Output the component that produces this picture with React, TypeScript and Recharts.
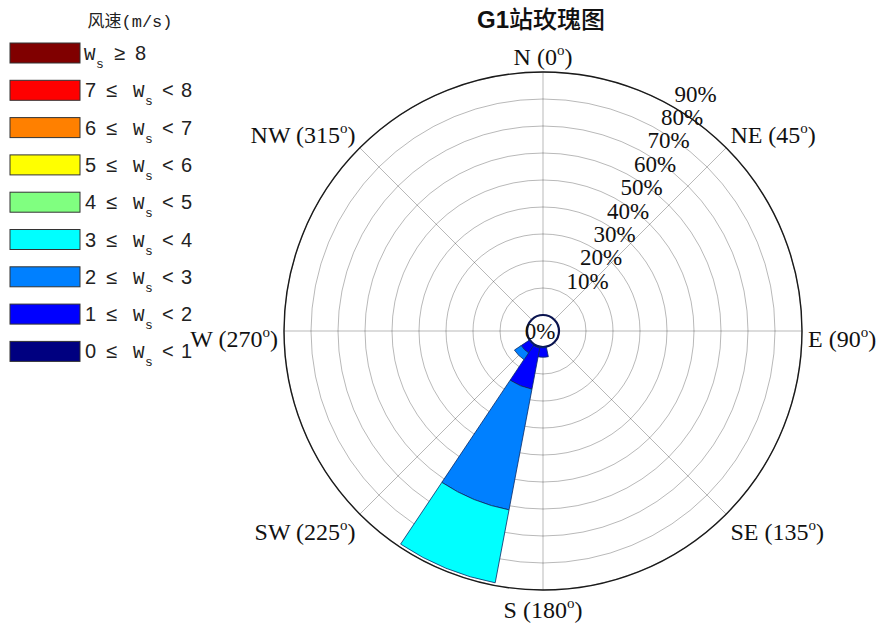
import React from 'react';
import { RadialBarChart, RadialBar, PolarAngleAxis, PolarRadiusAxis, PolarGrid, Cell } from 'recharts';

// 16 compass sectors, clockwise from north
const directions = ['N', 'NNE', 'NE', 'ENE', 'E', 'ESE', 'SE', 'SSE', 'S', 'SSW', 'SW', 'WSW', 'W', 'WNW', 'NW', 'NNW'];
const compassLabels = ['N', 'NE', 'E', 'SE', 'S', 'SW', 'W', 'NW'];
const compassDegrees = [0, 45, 90, 135, 180, 225, 270, 315];
const ringTicks = [0, 10, 20, 30, 40, 50, 60, 70, 80, 90];

// frequency (%) per wind speed band, one value per direction
const ws0to1 = [0, 0, 0, 0, 0, 0, 0, 0, 0.3, 0.5, 0.3, 0, 0, 0, 0, 0];
const ws1to2 = [0, 0, 0, 0, 0, 0, 0, 0, 3.5, 15.5, 3.5, 0, 0, 0, 0, 0];
const ws2to3 = [0, 0, 0, 0, 0, 0, 0, 0, 0, 45.5, 3.0, 0, 0, 0, 0, 0];
const ws3to4 = [0, 0, 0, 0, 0, 0, 0, 0, 0, 27.5, 0, 0, 0, 0, 0, 0];
const ws4to5 = [0, 0, 0, 0, 0, 0, 0, 0, 0, 0, 0, 0, 0, 0, 0, 0];
const ws5to6 = [0, 0, 0, 0, 0, 0, 0, 0, 0, 0, 0, 0, 0, 0, 0, 0];
const ws6to7 = [0, 0, 0, 0, 0, 0, 0, 0, 0, 0, 0, 0, 0, 0, 0, 0];
const ws7to8 = [0, 0, 0, 0, 0, 0, 0, 0, 0, 0, 0, 0, 0, 0, 0, 0];
const ws8up = [0, 0, 0, 0, 0, 0, 0, 0, 0, 0, 0, 0, 0, 0, 0, 0];

const bandLower = [0, 1, 2, 3, 4, 5, 6, 7, 8];
const bandUpper = [1, 2, 3, 4, 5, 6, 7, 8, null];
const bandColors = ['#000080', '#0000ff', '#0080ff', '#00ffff', '#80ff80', '#ffff00', '#ff8000', '#ff0000', '#800000'];
const bandSeries = [ws0to1, ws1to2, ws2to3, ws3to4, ws4to5, ws5to6, ws6to7, ws7to8, ws8up];

const rows = directions.map((dir, i) => {
  const row: Record<string, any> = { dir };
  bandSeries.forEach((s, b) => {
    row[`b${b}`] = s[i];
  });
  return row;
});

const CX = 543;
const CY = 331;
const INNER_R = 16;
const OUTER_R = 259;
const HALF_SECTOR = 360 / directions.length / 2;
const SERIF = '"Liberation Serif", "Times New Roman", serif';

const DirTick = (props: any) => {
  const { index, payload } = props;
  if (index % 2 !== 0) return <g />;
  const k = index / 2;
  // the axis coordinate sits on the sector edge, the label goes on the sector centre
  const a = ((payload.coordinate + HALF_SECTOR) * Math.PI) / 180;
  const x = CX + (OUTER_R + 6) * Math.cos(a);
  const y = CY - (OUTER_R + 6) * Math.sin(a);
  const dx = x - CX;
  const dy = y - CY;
  const anchor = dx > 1 ? 'start' : dx < -1 ? 'end' : 'middle';
  const ty = dy < -1 ? y - 1 : dy > 1 ? y + 22 : y + 16;
  return (
    <text x={x} y={ty} textAnchor={anchor} fontFamily={SERIF} fontSize={24} fill="#111">
      {`${compassLabels[k]} (${compassDegrees[k]}`}
      <tspan dy={-10} fontSize={15}>o</tspan>
      <tspan dy={10}>)</tspan>
    </text>
  );
};

const RingTick = (props: any) => {
  const { x, y, payload } = props;
  if (payload.value === 0) {
    return (
      <text x={CX - 3} y={CY + 8} textAnchor="middle" fontFamily={SERIF} fontSize={23} fill="#111">
        0%
      </text>
    );
  }
  return (
    <text x={x + 2} y={y - 5} textAnchor="start" fontFamily={SERIF} fontSize={23} fill="#111">
      {`${payload.value}%`}
    </text>
  );
};

const Legend = () => (
  <svg width={220} height={380} style={{ position: 'absolute', left: 0, top: 0 }}>
    <text x={130} y={27} textAnchor="middle" fontSize={17} fill="#222">
      <tspan fontFamily='"Noto Sans CJK SC", sans-serif'>风速</tspan>
      <tspan fontFamily='"Liberation Mono", monospace'>(m/s)</tspan>
    </text>
    {bandLower
      .map((lo, b) => ({ lo, hi: bandUpper[b], color: bandColors[b] }))
      .reverse()
      .map((band, i) => {
        const top = 43 + i * 37.3;
        const base = top + 17;
        const txt = { fontFamily: '"Liberation Sans", Arial, sans-serif', fontSize: 20, fill: '#222' };
        const w = { fontFamily: '"Liberation Mono", monospace', fontSize: 19, fill: '#222' };
        return (
          <g key={band.lo}>
            <rect x={10} y={top} width={70} height={20} fill={band.color} stroke="#333" strokeWidth={1} />
            {band.hi === null ? (
              <>
                <text x={84} y={base} {...w}>W</text>
                <text x={96} y={base + 8} {...w} fontSize={13}>s</text>
                <text x={114} y={base} {...txt}>≥</text>
                <text x={135} y={base} {...txt}>{band.lo}</text>
              </>
            ) : (
              <>
                <text x={85} y={base} {...txt}>{band.lo}</text>
                <text x={106} y={base} {...txt}>≤</text>
                <text x={133} y={base} {...w}>W</text>
                <text x={145} y={base + 8} {...w} fontSize={13}>s</text>
                <text x={162} y={base} {...txt}>&lt;</text>
                <text x={181} y={base} {...txt}>{band.hi}</text>
              </>
            )}
          </g>
        );
      })}
  </svg>
);

const gridAngles = compassDegrees.map((d) => 90 - d);

export default function App() {
  return (
    <div style={{ position: 'absolute', left: 0, top: 0, width: 880, height: 626, background: '#fff' }}>
      <div
        style={{
          position: 'absolute',
          left: 391,
          width: 300,
          top: 0,
          textAlign: 'center',
          fontSize: 24,
          lineHeight: 'normal',
          color: '#111',
        }}
      >
        <span style={{ fontFamily: '"Liberation Sans", Arial, sans-serif', fontWeight: 'bold' }}>G1</span>
        <span style={{ fontFamily: '"Noto Sans CJK SC", sans-serif', fontWeight: 500 }}>站玫瑰图</span>
      </div>
      <div style={{ position: 'absolute', left: 0, top: 0 }}>
        <RadialBarChart
          width={880}
          height={626}
          data={rows}
          layout="centric"
          cx={CX}
          cy={CY}
          innerRadius={INNER_R}
          outerRadius={OUTER_R}
          startAngle={90 - HALF_SECTOR}
          endAngle={90 - HALF_SECTOR - 360}
          barCategoryGap={0}
          barGap={0}
          margin={{ top: 0, right: 0, bottom: 0, left: 0 }}
        >
          <PolarAngleAxis
            dataKey="dir"
            type="category"
            tickLine={false}
            tickSize={6}
            axisLineType="circle"
            axisLine={{ stroke: '#1a1a1a', strokeWidth: 1.4 }}
            tick={<DirTick />}
          />
          <PolarRadiusAxis
            type="number"
            angle={60}
            domain={[0, 90]}
            ticks={ringTicks}
            tickCount={10}
            axisLine={false}
            tickLine={false}
            tick={<RingTick />}
          />
          {bandSeries.map((series, b) => (
            <RadialBar
              key={b}
              dataKey={`b${b}`}
              stackId="ws"
              fill={bandColors[b]}
              stroke="#0a2a66"
              strokeWidth={0.8}
              isAnimationActive={false}
            >
              {series.map((v, i) => (
                <Cell key={i} stroke={v > 0 ? '#0a2a66' : 'none'} />
              ))}
            </RadialBar>
          ))}
          <PolarGrid gridType="circle" polarAngles={gridAngles} stroke="#000" strokeOpacity={0.28} />
          <PolarGrid
            gridType="circle"
            radialLines={false}
            polarAngles={[]}
            polarRadius={[INNER_R]}
            stroke="#0a1450"
            strokeWidth={2.2}
          />
        </RadialBarChart>
      </div>
      <Legend />
    </div>
  );
}
